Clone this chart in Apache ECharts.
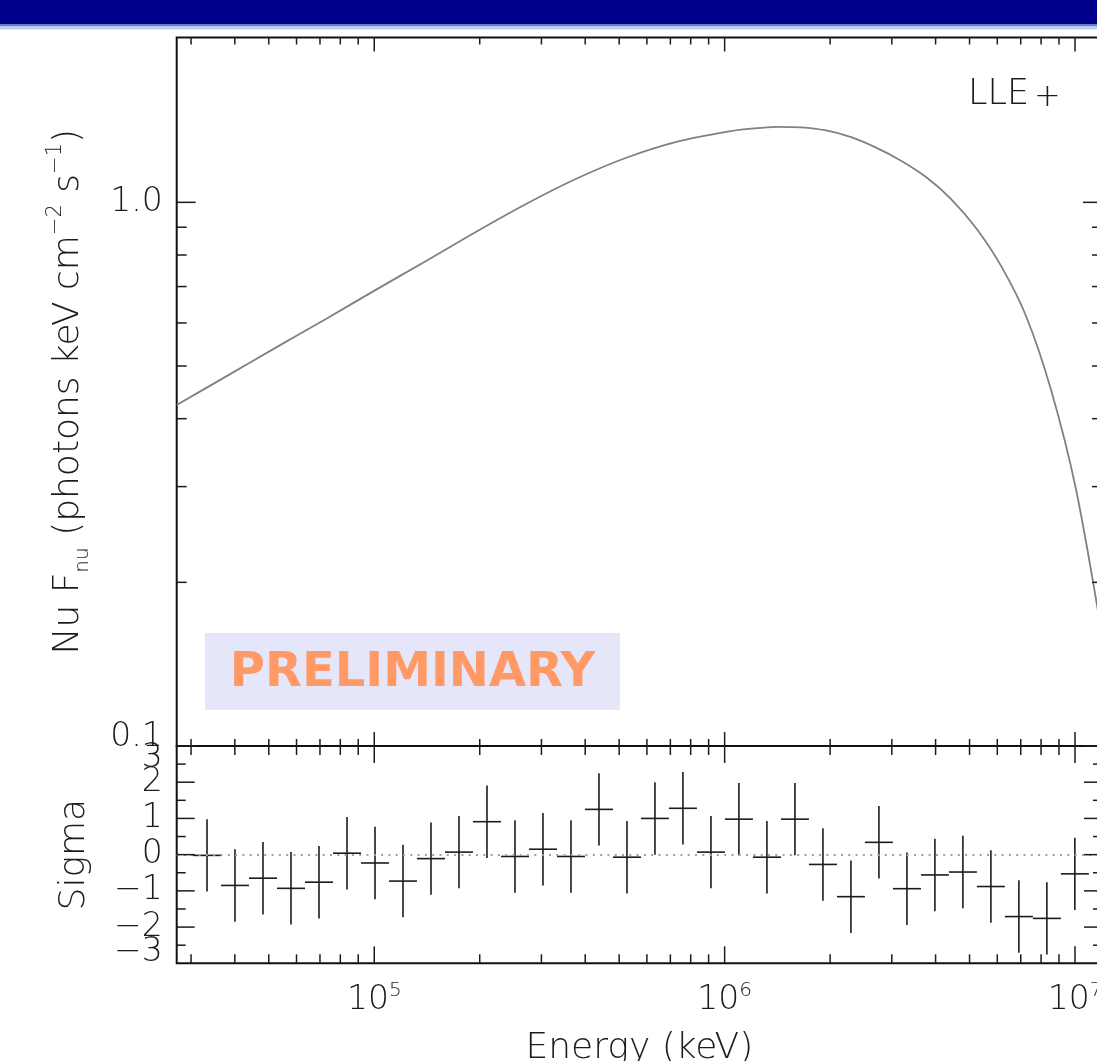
<!DOCTYPE html>
<html>
<head>
<meta charset="utf-8">
<script src="https://cdn.jsdelivr.net/npm/echarts@6/dist/echarts.min.js"></script>
<style>
  html, body { margin: 0; padding: 0; overflow: hidden; background: #fff; }
  #chart { width: 1110px; height: 1061px; }
</style>
</head>
<body>
<div id="chart"></div>
<script>
// ── data ──
const X_MIN = 2.73e4
const X_MAX = 1.194e7
const FLUX_MIN = 0.1
const FLUX_MAX = 2.01

// model curve (Nu F_nu)
const modelEnergy = [2.73e4, 3.79e4, 5.25e4, 7.3e4, 1.013e5, 1.41e5, 1.955e5, 2.72e5, 3.77e5, 5.24e5,
	7.28e5, 1.01e6, 1.19e6, 1.403e6, 1.653e6, 1.948e6, 2.296e6, 2.705e6, 3.188e6, 3.757e6,
	4.428e6, 5.218e6, 6.15e6, 7.247e6, 8.541e6, 1.007e7, 1.194e7]
const modelFlux = [0.424, 0.479, 0.541, 0.611, 0.691, 0.781, 0.883, 0.994, 1.105, 1.208,
	1.292, 1.348, 1.366, 1.377, 1.374, 1.356, 1.318, 1.261, 1.193, 1.113,
	1.014, 0.897, 0.764, 0.618, 0.452, 0.296, 0.160]

// residual bins (edges, keV) and sigma values
const binEdges = [3.04e4, 3.652e4, 4.39e4, 5.277e4, 6.343e4, 7.625e4, 9.166e4, 1.102e5, 1.324e5, 1.592e5,
	1.913e5, 2.30e5, 2.764e5, 3.323e5, 3.994e5, 4.801e5, 5.771e5, 6.934e5, 8.336e5, 1.002e6,
	1.204e6, 1.448e6, 1.74e6, 2.092e6, 2.514e6, 3.022e6, 3.633e6, 4.365e6, 5.248e6, 6.307e6,
	7.581e6, 9.112e6, 1.095e7]
const sigmaValues = [-0.02, -0.85, -0.65, -0.93, -0.76, 0.04, -0.23, -0.73, -0.11, 0.07,
	0.91, -0.05, 0.15, -0.05, 1.25, -0.07, 1.0, 1.28, 0.07, 0.98,
	-0.07, 0.98, -0.27, -1.16, 0.34, -0.94, -0.56, -0.48, -0.88, -1.71,
	-1.76, -0.53]
const sigmaErrors = [1, 1, 1, 1, 1, 1, 1, 1, 1, 1,
	1, 1, 1, 1, 1, 1, 1, 1, 1, 1,
	1, 1, 1, 1, 1, 1, 1, 1, 1, 1,
	1, 1]

// tick values
const xMajorTicks = [1e5, 1e6, 1e7]
const xMinorTicks = [3e4, 4e4, 5e4, 6e4, 7e4, 8e4, 9e4,
	2e5, 3e5, 4e5, 5e5, 6e5, 7e5, 8e5, 9e5,
	2e6, 3e6, 4e6, 5e6, 6e6, 7e6, 8e6, 9e6]
const fluxMajorTicks = [0.1, 1]
const fluxMinorTicks = [0.2, 0.3, 0.4, 0.5, 0.6, 0.7, 0.8, 0.9]
const sigmaMajorTicks = [-2, -1, 0, 1, 2]
const sigmaMinorTicks = [-2.5, -1.5, -0.5, 0.5, 1.5, 2.5]

// ── style ──
const FONT = "'DejaVu Sans', sans-serif"
const THIN = 200
const INK = '#1c1c1c'

const chart = echarts.init(document.getElementById('chart'))

// 刻度：x 刻度画在上下边框，y 刻度画在左右边框（向内）
function tickSeries(gi, refX, refY, yTicks, xLen, yLen) {
	const data = []
	xMajorTicks.forEach(v => data.push([v, refY, 0, 1]))
	xMinorTicks.forEach(v => data.push([v, refY, 0, 0]))
	yTicks[0].forEach(v => data.push([refX, v, 1, 1]))
	yTicks[1].forEach(v => data.push([refX, v, 1, 0]))
	const st = { stroke: INK, lineWidth: 1.5 }
	return {
		type: 'custom',
		xAxisIndex: gi,
		yAxisIndex: gi,
		silent: true,
		z: 5,
		data,
		renderItem(params, api) {
			const cs = params.coordSys
			const p = api.coord([api.value(0), api.value(1)])
			const major = api.value(3) === 1
			if (api.value(2) === 0) {
				const L = major ? xLen[0] : xLen[1]
				const x = p[0]
				return {
					type: 'group',
					children: [
						{ type: 'line', shape: { x1: x, y1: cs.y, x2: x, y2: cs.y + L }, style: st },
						{ type: 'line', shape: { x1: x, y1: cs.y + cs.height, x2: x, y2: cs.y + cs.height - L }, style: st },
					],
				}
			}
			const L = major ? yLen[0] : yLen[1]
			const y = p[1]
			return {
				type: 'group',
				children: [
					{ type: 'line', shape: { x1: cs.x, y1: y, x2: cs.x + L, y2: y }, style: st },
					{ type: 'line', shape: { x1: cs.x + cs.width, y1: y, x2: cs.x + cs.width - L, y2: y }, style: st },
				],
			}
		},
	}
}

const residualData = sigmaValues.map((v, i) => [binEdges[i], binEdges[i + 1], v, sigmaErrors[i]])

const labelBase = { fontFamily: FONT, fontWeight: THIN, color: INK }
const minus = v => (v < 0 ? '−' + Math.abs(v) : String(v))
const sigmaAxisBase = {
	type: 'value', gridIndex: 1, min: -3, max: 3, position: 'left',
	axisLine: { show: false }, axisTick: { show: false }, splitLine: { show: false },
}

const option = {
	animation: false,
	backgroundColor: '#fff',
	grid: [
		{ left: 176.7, top: 37.5, width: 925.3, height: 708.5, outerBoundsMode: 'none', containLabel: false, show: true, borderColor: '#111', borderWidth: 2, backgroundColor: 'transparent' },
		{ left: 176.7, top: 746, width: 925.3, height: 217.3, outerBoundsMode: 'none', containLabel: false, show: true, borderColor: '#111', borderWidth: 2, backgroundColor: 'transparent' },
	],
	xAxis: [
		{
			type: 'log', gridIndex: 0, min: X_MIN, max: X_MAX,
			axisLine: { show: false }, axisTick: { show: false }, splitLine: { show: false },
			axisLabel: { show: false },
		},
		{
			type: 'log', gridIndex: 1, min: X_MIN, max: X_MAX,
			axisLine: { show: false }, axisTick: { show: false }, splitLine: { show: false },
			axisLabel: {
				margin: 17,
				showMinLabel: false,
				showMaxLabel: false,
				formatter: v => '{m|10}{s|' + Math.round(Math.log10(v)) + '}',
				rich: {
					m: { ...labelBase, fontSize: 33, lineHeight: 40 },
					s: { ...labelBase, fontSize: 20, verticalAlign: 'top' },
				},
			},
			name: 'Energy (keV)',
			nameLocation: 'middle',
			nameGap: 67,
			nameTextStyle: { ...labelBase, fontSize: 36 },
		},
	],
	yAxis: [
		{
			type: 'log', gridIndex: 0, min: FLUX_MIN, max: FLUX_MAX,
			axisLine: { show: false }, axisTick: { show: false }, splitLine: { show: false },
			axisLabel: {
				...labelBase, fontSize: 33, margin: 14,
				showMinLabel: true,
				showMaxLabel: false,
				verticalAlignMinLabel: 'bottom',
				formatter: v => (v < 0.5 ? '{lo|' + v.toFixed(1) + '}' : v.toFixed(1)),
				rich: { lo: { ...labelBase, fontSize: 33, lineHeight: 18 } },
			},
			name: '{m|Nu F}{sub|nu}{m| (photons keV cm}{sup|−2}{m| s}{sup|−1}{m|)}',
			nameLocation: 'middle',
			nameGap: 84,
			nameTextStyle: {
				...labelBase, fontSize: 36,
				rich: {
					m: { ...labelBase, fontSize: 36, lineHeight: 48 },
					sub: { ...labelBase, fontSize: 20, verticalAlign: 'bottom' },
					sup: { ...labelBase, fontSize: 21, verticalAlign: 'top' },
				},
			},
		},
		// Sigma 轴：内部刻度标签 −2 … 2
		{
			...sigmaAxisBase,
			interval: 1,
			axisLabel: {
				...labelBase, fontSize: 33, margin: 14,
				showMinLabel: false,
				showMaxLabel: false,
				formatter: minus,
			},
			name: 'Sigma',
			nameLocation: 'middle',
			nameGap: 84,
			nameTextStyle: { ...labelBase, fontSize: 36 },
		},
		// Sigma 轴：两端标签 −3 / 3
		{
			...sigmaAxisBase,
			interval: 6,
			axisLabel: {
				...labelBase, fontSize: 33, margin: 14,
				showMinLabel: true,
				showMaxLabel: true,
				verticalAlignMinLabel: 'bottom',
				verticalAlignMaxLabel: 'top',
				formatter: v => (v > 0 ? '{t|' + minus(v) + '}' : '{b|' + minus(v) + '}'),
				rich: {
					t: { ...labelBase, fontSize: 33, lineHeight: 24 },
					b: { ...labelBase, fontSize: 33, lineHeight: 22 },
				},
			},
		},
	],
	series: [
		// 模型曲线
		{
			name: 'model',
			type: 'line',
			xAxisIndex: 0,
			yAxisIndex: 0,
			data: modelEnergy.map((e, i) => [e, modelFlux[i]]),
			smooth: 0.3,
			showSymbol: false,
			silent: true,
			lineStyle: { color: '#808080', width: 1.8 },
		},
		// 残差 (十字误差棒)
		{
			name: 'LLE',
			type: 'custom',
			xAxisIndex: 1,
			yAxisIndex: 1,
			silent: true,
			encode: { x: [0, 1], y: [2] },
			data: residualData,
			renderItem(params, api) {
				const lo = api.value(0), hi = api.value(1), v = api.value(2), e = api.value(3)
				const mid = Math.sqrt(lo * hi)
				const a = api.coord([lo, v]), b = api.coord([hi, v])
				const t = api.coord([mid, v + e]), d = api.coord([mid, v - e])
				const st = { stroke: INK, lineWidth: 1.6 }
				return {
					type: 'group',
					children: [
						{ type: 'line', shape: { x1: a[0], y1: a[1], x2: b[0], y2: b[1] }, style: st },
						{ type: 'line', shape: { x1: t[0], y1: t[1], x2: d[0], y2: d[1] }, style: st },
					],
				}
			},
			markLine: {
				silent: true,
				symbol: 'none',
				label: { show: false },
				lineStyle: { type: [2, 5.3], color: '#a0a0a0', width: 2 },
				data: [{ yAxis: 0 }],
			},
		},
		tickSeries(0, 1e5, 1, [fluxMajorTicks, fluxMinorTicks], [14, 7], [19, 10]),
		tickSeries(1, 1e5, 0, [sigmaMajorTicks, sigmaMinorTicks], [17, 9], [18, 9]),
	],
	graphic: [
		// 页眉色带
		{ type: 'rect', silent: true, shape: { x: 0, y: 0, width: 1110, height: 24 }, style: { fill: '#00008c' } },
		{ type: 'rect', silent: true, shape: { x: 0, y: 24, width: 1110, height: 2.5 }, style: { fill: '#5f84cc' } },
		{ type: 'rect', silent: true, shape: { x: 0, y: 26.5, width: 1110, height: 3 }, style: { fill: '#bccdee' } },
		// PRELIMINARY 标签
		{ type: 'rect', silent: true, shape: { x: 205, y: 633, width: 415, height: 77 }, style: { fill: '#e6e6fa' }, z: 10 },
		{
			type: 'text', silent: true, z: 11, x: 412.5, y: 674,
			style: { text: 'PRELIMINARY', fontFamily: FONT, fontWeight: 'bold', fontSize: 48, fill: '#ff9966', align: 'center', verticalAlign: 'middle' },
		},
		// 图例
		{
			type: 'text', silent: true, z: 11, x: 968, y: 95,
			style: { text: 'LLE', fontFamily: FONT, fontWeight: THIN, fontSize: 35, fill: INK, align: 'left', verticalAlign: 'middle' },
		},
		{
			type: 'text', silent: true, z: 11, x: 1047.5, y: 98,
			style: { text: '+', fontFamily: FONT, fontWeight: THIN, fontSize: 32, fill: INK, align: 'center', verticalAlign: 'middle' },
		},
	],
}

chart.setOption(option)
</script>
</body>
</html>
